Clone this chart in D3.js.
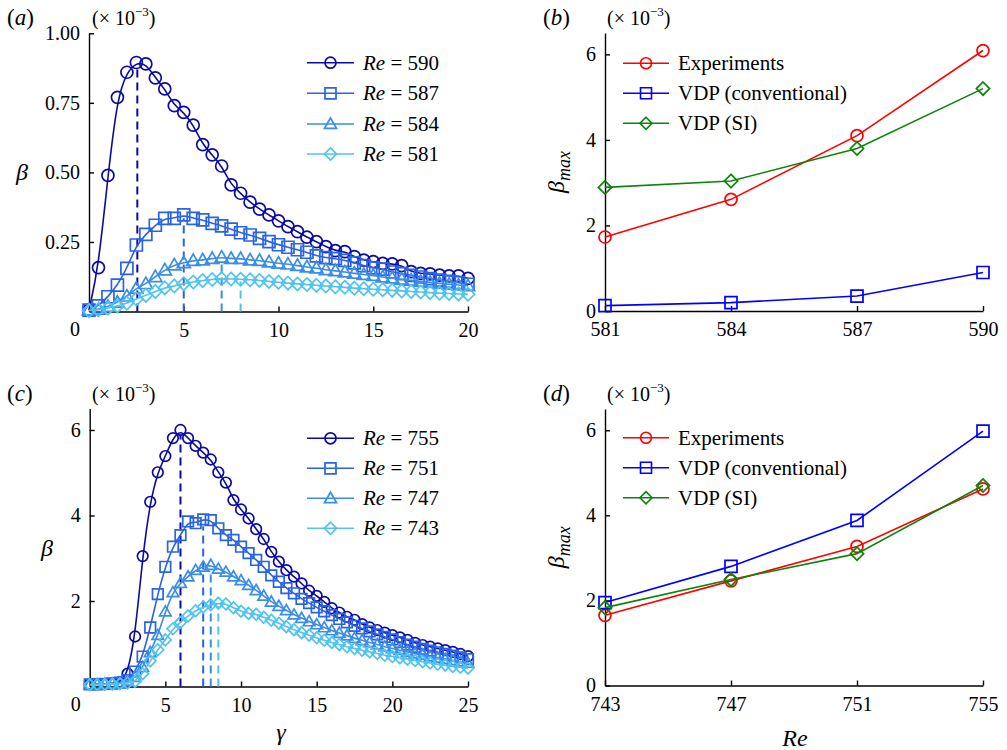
<!DOCTYPE html>
<html>
<head>
<meta charset="utf-8">
<script src="https://cdn.jsdelivr.net/npm/d3@7"></script>
<style>
  body { margin: 0; background: #fff; }
  svg, svg text { font-family: 'Liberation Serif', 'DejaVu Serif', serif; }
  svg text { fill: #000; }
  .axis path, .axis line { stroke: #000; stroke-width: 1.4; }
  .axis text { font-size: 20px; }
</style>
</head>
<body>
<div id="chart"></div>
<script>
// ---- data ----
var gammaA = [0, 0.5, 1, 1.5, 2, 2.5, 3, 3.5, 4, 4.5, 5, 5.5, 6, 6.5, 7, 7.5, 8, 8.5, 9, 9.5, 10,
              10.5, 11, 11.5, 12, 12.5, 13, 13.5, 14, 14.5, 15, 15.5, 16, 16.5, 17, 17.5, 18, 18.5, 19, 19.5, 20];
var gammaC = [0, 0.5, 1, 1.5, 2, 2.5, 3, 3.5, 4, 4.5, 5, 5.5, 6, 6.5, 7, 7.5, 8, 8.5, 9, 9.5, 10,
              10.5, 11, 11.5, 12, 12.5, 13, 13.5, 14, 14.5, 15, 15.5, 16, 16.5, 17, 17.5, 18, 18.5, 19, 19.5, 20,
              20.5, 21, 21.5, 22, 22.5, 23, 23.5, 24, 24.5, 25];

var reA = ['590', '587', '584', '581'];
var betaA590 = [0.005, 0.158, 0.489, 0.77, 0.86, 0.895, 0.89, 0.84, 0.80, 0.74, 0.716, 0.67, 0.60, 0.563, 0.523, 0.455, 0.425, 0.393, 0.368, 0.347, 0.326,
                0.305, 0.287, 0.267, 0.251, 0.233, 0.219, 0.215, 0.197, 0.185, 0.179, 0.173, 0.171, 0.165, 0.143, 0.137, 0.135, 0.131, 0.128, 0.128, 0.119];
var betaA587 = [0.005, 0.02, 0.053, 0.095, 0.155, 0.239, 0.277, 0.31, 0.335, 0.335, 0.347, 0.335, 0.329, 0.317, 0.308, 0.296, 0.283, 0.275, 0.263, 0.251, 0.24,
                0.231, 0.222, 0.213, 0.2, 0.194, 0.19, 0.184, 0.175, 0.165, 0.157, 0.152, 0.142, 0.136, 0.13, 0.124, 0.118, 0.113, 0.108, 0.104, 0.098];
var betaA584 = [0.005, 0.008, 0.018, 0.033, 0.055, 0.083, 0.1, 0.125, 0.149, 0.167, 0.175, 0.183, 0.185, 0.19, 0.195, 0.19, 0.19, 0.185, 0.183, 0.178, 0.173,
                0.17, 0.165, 0.16, 0.156, 0.15, 0.146, 0.142, 0.137, 0.133, 0.129, 0.124, 0.12, 0.116, 0.112, 0.108, 0.105, 0.101, 0.098, 0.095, 0.092];
var betaA581 = [0.003, 0.006, 0.012, 0.02, 0.03, 0.045, 0.058, 0.072, 0.085, 0.092, 0.1, 0.106, 0.111, 0.115, 0.118, 0.117, 0.116, 0.114, 0.112, 0.108, 0.105,
                0.102, 0.099, 0.097, 0.094, 0.092, 0.089, 0.087, 0.084, 0.082, 0.08, 0.078, 0.076, 0.074, 0.072, 0.07, 0.068, 0.066, 0.065, 0.063, 0.062];
// gamma and beta of the fitted maximum (dashed lines)
var peakGammaA = [2.55, 5.0, 7.0, 8.0];
var peakBetaA  = [0.885, 0.335, 0.17, 0.108];

var reC = ['755', '751', '747', '743'];
var betaC755 = [0.05, 0.05, 0.06, 0.07, 0.1, 0.3, 1.17, 3.05, 4.32, 5.01, 5.39, 5.81, 6.0, 5.81, 5.63, 5.47, 5.31, 5.01, 4.77, 4.36, 4.14,
                3.93, 3.68, 3.45, 3.15, 2.92, 2.72, 2.57, 2.41, 2.24, 2.12, 1.98, 1.83, 1.73, 1.63, 1.56, 1.46, 1.38, 1.32, 1.26, 1.2,
                1.15, 1.09, 1.02, 0.97, 0.93, 0.89, 0.85, 0.81, 0.76, 0.71];
var betaC751 = [0.05, 0.05, 0.06, 0.07, 0.09, 0.15, 0.35, 0.7, 1.38, 2.16, 2.8, 3.27, 3.54, 3.86, 3.82, 3.91, 3.89, 3.7, 3.54, 3.43, 3.27,
                3.12, 2.96, 2.8, 2.6, 2.45, 2.3, 2.18, 2.05, 1.95, 1.85, 1.76, 1.67, 1.58, 1.5, 1.42, 1.36, 1.29, 1.22, 1.16, 1.1,
                1.04, 0.98, 0.93, 0.88, 0.84, 0.8, 0.76, 0.72, 0.68, 0.64];
var betaC747 = [0.05, 0.05, 0.055, 0.065, 0.08, 0.12, 0.22, 0.45, 0.8, 1.2, 1.75, 2.2, 2.42, 2.57, 2.72, 2.8, 2.84, 2.75, 2.68, 2.57, 2.48,
                2.37, 2.25, 2.12, 1.98, 1.88, 1.78, 1.68, 1.6, 1.52, 1.45, 1.38, 1.31, 1.25, 1.19, 1.13, 1.08, 1.03, 0.98, 0.93, 0.89,
                0.85, 0.81, 0.77, 0.74, 0.7, 0.67, 0.64, 0.61, 0.58, 0.55];
var betaC743 = [0.04, 0.045, 0.05, 0.055, 0.065, 0.08, 0.12, 0.3, 0.6, 0.86, 1.09, 1.35, 1.5, 1.65, 1.77, 1.86, 1.91, 1.95, 1.93, 1.84, 1.76,
                1.71, 1.69, 1.62, 1.55, 1.48, 1.4, 1.33, 1.26, 1.2, 1.14, 1.08, 1.03, 0.98, 0.93, 0.89, 0.85, 0.81, 0.77, 0.73, 0.7,
                0.67, 0.64, 0.61, 0.58, 0.55, 0.52, 0.5, 0.47, 0.45, 0.43];
var peakGammaC = [6.0, 7.5, 8.0, 8.5];
var peakBetaC  = [5.9, 3.75, 2.75, 1.88];

var reB = [581, 584, 587, 590];
var expB  = [1.73, 2.61, 4.10, 6.09];
var convB = [0.125, 0.195, 0.35, 0.90];
var siB   = [2.89, 3.04, 3.80, 5.20];

var reD = [743, 747, 751, 755];
var expD  = [1.65, 2.46, 3.27, 4.62];
var convD = [1.95, 2.80, 3.88, 5.98];
var siD   = [1.83, 2.49, 3.10, 4.70];

var methodNames = ['Experiments', 'VDP (conventional)', 'VDP (SI)'];

var profileColours = ['#0b0ba3', '#2a63e3', '#3a8de8', '#50c3ef'];
var profileShapes  = ['circle', 'square', 'triangle', 'diamond'];
var methodColours  = ['#ff0000', '#0000ff', '#0a850a'];
var methodShapes   = ['circle', 'square', 'diamond'];

var serif = "'Liberation Serif', 'DejaVu Serif', serif";

var svg = d3.select('#chart').append('svg')
            .attr('width', 1007)
            .attr('height', 750)
            .attr('font-family', serif);

function markerPath (shape, r)
{
    if (shape == 'circle')
        return 'M' + (-r) + ',0A' + r + ',' + r + ' 0 1,0 ' + r + ',0A' + r + ',' + r + ' 0 1,0 ' + (-r) + ',0Z';
    if (shape == 'square')
        return 'M' + (-r) + ',' + (-r) + 'H' + r + 'V' + r + 'H' + (-r) + 'Z';
    if (shape == 'triangle')
        return 'M0,' + (-r * 1.1) + 'L' + (r * 1.1) + ',' + (r * 0.8) + 'H' + (-r * 1.1) + 'Z';
    return 'M0,' + (-r * 1.1) + 'L' + (r * 1.1) + ',0L0,' + (r * 1.1) + 'L' + (-r * 1.1) + ',0Z';
}

function drawAxes (g, x, y, xTicks, yTicks, yFormat)
{
    var ax = g.append('g')
              .attr('class', 'axis')
              .attr('transform', 'translate(0,' + y.range()[0] + ')')
              .call(d3.axisBottom(x).tickValues(xTicks).tickSizeInner(-5).tickSizeOuter(0).tickPadding(11));

    var ay = g.append('g')
              .attr('class', 'axis')
              .attr('transform', 'translate(' + x.range()[0] + ',0)')
              .call(d3.axisLeft(y).tickValues(yTicks).tickSizeInner(-5).tickSizeOuter(0).tickPadding(9).tickFormat(yFormat));

    ax.attr('font-family', serif).attr('font-size', 20);
    ay.attr('font-family', serif).attr('font-size', 20);
}

function scaleNote (lx, x, y, letter)
{
    var t = svg.append('text').attr('x', lx).attr('y', y).style('font-size', '23px');
    t.append('tspan').text('(');
    t.append('tspan').style('font-style', 'italic').text(letter);
    t.append('tspan').text(')');

    var s = svg.append('text').attr('x', x).attr('y', y).style('font-size', '20px');
    s.append('tspan').text('(× 10');
    s.append('tspan').attr('dy', -9).style('font-size', '13px').text('−3');
    s.append('tspan').attr('dy', 9).text(')');
}

// panel (a) / (c): beta against gamma
function drawProfiles (cfg)
{
    var x = d3.scaleLinear().domain(cfg.xDomain).range(cfg.xRange);
    var y = d3.scaleLinear().domain(cfg.yDomain).range(cfg.yRange);
    var g = svg.append('g');

    drawAxes(g, x, y, cfg.xTicks, cfg.yTicks, cfg.yFormat);

    // lone "0" at the corner
    g.append('text')
     .attr('x', x.range()[0] - 14).attr('y', y.range()[0] + 24)
     .attr('text-anchor', 'middle').style('font-size', '20px').text('0');

    var line = d3.line()
                 .x(function (d) { return x(d[0]); })
                 .y(function (d) { return y(d[1]); })
                 .curve(d3.curveBasis);

    for (var i = 0; i < cfg.series.length; i++)
    {
        var pts = cfg.gamma.map(function (gm, k) { return [gm, cfg.series[i][k]]; });
        var col = profileColours[i];

        g.append('line')
         .attr('x1', x(cfg.peakGamma[i])).attr('x2', x(cfg.peakGamma[i]))
         .attr('y1', y(0)).attr('y2', y(cfg.peakBeta[i]))
         .attr('stroke', col).attr('stroke-width', 2).attr('stroke-dasharray', '8,5');

        g.append('path')
         .datum(pts)
         .attr('d', line)
         .attr('fill', 'none').attr('stroke', col).attr('stroke-width', 1.6);

        g.selectAll(null)
         .data(pts).enter()
         .append('path')
         .attr('transform', function (d) { return 'translate(' + x(d[0]) + ',' + y(d[1]) + ')'; })
         .attr('d', markerPath(profileShapes[i], cfg.r))
         .attr('fill', 'none').attr('stroke', col).attr('stroke-width', 1.7);
    }

    // legend
    for (var j = 0; j < cfg.labels.length; j++)
    {
        var ly = cfg.legendY[j];
        g.append('line').attr('x1', cfg.legendX).attr('x2', cfg.legendX + 47).attr('y1', ly).attr('y2', ly)
         .attr('stroke', profileColours[j]).attr('stroke-width', 1.6);
        g.append('path').attr('transform', 'translate(' + (cfg.legendX + 23.5) + ',' + ly + ')')
         .attr('d', markerPath(profileShapes[j], 5.5))
         .attr('fill', 'none').attr('stroke', profileColours[j]).attr('stroke-width', 1.7);
        var t = g.append('text').attr('x', cfg.legendX + 56).attr('y', ly + 7).style('font-size', '21px');
        t.append('tspan').style('font-style', 'italic').text('Re');
        t.append('tspan').text(' = ' + cfg.labels[j]);
    }

    g.append('text')
     .attr('x', cfg.yLabelX).attr('y', (y.range()[0] + y.range()[1]) / 2 + 8)
     .attr('text-anchor', 'middle').style('font-size', '24px').style('font-style', 'italic').text('β');
}

// panel (b) / (d): beta_max against Re
function drawMaxima (cfg)
{
    var x = d3.scaleLinear().domain([cfg.re[0], cfg.re[cfg.re.length - 1]]).range(cfg.xRange);
    var y = d3.scaleLinear().domain([0, 6.5]).range(cfg.yRange);
    var g = svg.append('g');

    drawAxes(g, x, y, cfg.re, [0, 2, 4, 6], d3.format('d'));

    var line = d3.line()
                 .x(function (d) { return x(d[0]); })
                 .y(function (d) { return y(d[1]); });

    for (var i = 0; i < cfg.series.length; i++)
    {
        var pts = cfg.re.map(function (r, k) { return [r, cfg.series[i][k]]; });
        var col = methodColours[i];

        g.append('path').datum(pts).attr('d', line)
         .attr('fill', 'none').attr('stroke', col).attr('stroke-width', 1.6);

        g.selectAll(null)
         .data(pts).enter()
         .append('path')
         .attr('transform', function (d) { return 'translate(' + x(d[0]) + ',' + y(d[1]) + ')'; })
         .attr('d', markerPath(methodShapes[i], 6))
         .attr('fill', 'none').attr('stroke', col).attr('stroke-width', 1.7);
    }

    for (var j = 0; j < methodNames.length; j++)
    {
        var ly = cfg.legendY[j];
        g.append('line').attr('x1', 623).attr('x2', 669).attr('y1', ly).attr('y2', ly)
         .attr('stroke', methodColours[j]).attr('stroke-width', 1.6);
        g.append('path').attr('transform', 'translate(646,' + ly + ')')
         .attr('d', markerPath(methodShapes[j], 5.5))
         .attr('fill', 'none').attr('stroke', methodColours[j]).attr('stroke-width', 1.6);
        g.append('text').attr('x', 678).attr('y', ly + 7).style('font-size', '21px').text(methodNames[j]);
    }

    var yl = g.append('text')
              .attr('transform', 'translate(564,' + ((y.range()[0] + y.range()[1]) / 2) + ') rotate(-90)')
              .attr('text-anchor', 'middle').style('font-size', '24px').style('font-style', 'italic');
    yl.append('tspan').text('β');
    yl.append('tspan').attr('dy', 6).style('font-size', '18px').text('max');
}

scaleNote(7, 92, 25, 'a');
scaleNote(543, 607, 25, 'b');
scaleNote(7, 92, 401, 'c');
scaleNote(543, 607, 401, 'd');

drawProfiles({
    gamma: gammaA, series: [betaA590, betaA587, betaA584, betaA581], labels: reA,
    peakGamma: peakGammaA, peakBeta: peakBetaA,
    xDomain: [0, 20], xRange: [89, 468], yDomain: [0, 1], yRange: [311.5, 33.3],
    xTicks: [5, 10, 15, 20], yTicks: [0.25, 0.5, 0.75, 1.0], yFormat: d3.format('.2f'),
    r: 6, legendX: 307, legendY: [62.7, 93.3, 124, 154], yLabelX: 22
});

drawProfiles({
    gamma: gammaC, series: [betaC755, betaC751, betaC747, betaC743], labels: reC,
    peakGamma: peakGammaC, peakBeta: peakBetaC,
    xDomain: [0, 25], xRange: [89.7, 468], yDomain: [0, 6.5], yRange: [686.5, 408.6],
    xTicks: [5, 10, 15, 20, 25], yTicks: [2, 4, 6], yFormat: d3.format('d'),
    r: 5.3, legendX: 307, legendY: [438.3, 468.3, 498.3, 528.3], yLabelX: 47
});

drawMaxima({ re: reB, series: [expB, convB, siB], xRange: [605, 983], yRange: [311, 33], legendY: [63.3, 93.3, 123.3] });
drawMaxima({ re: reD, series: [expD, convD, siD], xRange: [605, 983], yRange: [685.5, 409], legendY: [437.7, 467.7, 497.7] });

// x-axis titles
svg.append('text').attr('x', 281).attr('y', 740).attr('text-anchor', 'middle')
   .style('font-size', '24px').style('font-style', 'italic').text('γ');
svg.append('text').attr('x', 795).attr('y', 746).attr('text-anchor', 'middle')
   .style('font-size', '24px').style('font-style', 'italic').text('Re');
</script>
</body>
</html>
